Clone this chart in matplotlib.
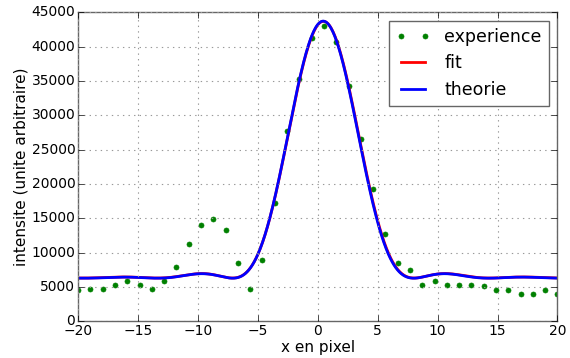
import numpy as np
import matplotlib
matplotlib.use("Agg")
import matplotlib.pyplot as plt

# data (40 pixels from -20 to 20)
x_exp = np.linspace(-20, 20, 40)
y_exp = [4650, 4750, 4750, 5240, 5900, 5240, 4700, 5900, 7950, 11200,
         14000, 14980, 13330, 8580, 4750, 8970, 17300, 27650, 35300, 41220,
         42970, 40640, 34240, 26550, 19330, 12740, 8500, 7470, 5240, 5960,
         5330, 5290, 5290, 5140, 4610, 4610, 3930, 4070, 4650, 3930]

# parameters of the model curves (Airy pattern + offset)
theo_params = dict(A=37400, B=6300, k=0.5075, x0=0.45)
fit_params = dict(A=37350, B=6320, k=0.5060, x0=0.47)


def bessel_j1(u):
    tau = np.linspace(0, np.pi, 400)
    integrand = np.cos(tau[None, :] - u[:, None] * np.sin(tau[None, :]))
    return np.trapezoid(integrand, tau, axis=1) / np.pi


def airy(x, A, B, k, x0):
    u = k * (x - x0)
    u = np.where(np.abs(u) < 1e-9, 1e-9, u)
    return B + A * (2 * bessel_j1(u) / u) ** 2


xs = np.linspace(-20, 20, 801)

plt.style.use('classic')
fig = plt.figure(figsize=(5.7, 3.58), dpi=100, facecolor='white')
ax = fig.add_axes([0.137, 0.102, 0.841, 0.864])

ax.plot(x_exp, y_exp, 'o', color='green', markeredgecolor='green', markersize=3.6, label='experience')
ax.plot(xs, airy(xs, **fit_params), color='red', linewidth=2, label='fit')
ax.plot(xs, airy(xs, **theo_params), color='blue', linewidth=2, label='theorie')

ax.set_xlim(-20, 20)
ax.set_ylim(0, 45000)
ax.set_xlabel('x en pixel', fontsize=11, labelpad=1)
ax.set_ylabel('intensite (unite arbitraire)', fontsize=11, labelpad=2)
ax.tick_params(labelsize=10, pad=2)
ax.grid(True, color='0.6', linestyle=':', linewidth=0.8)
for sp in ax.spines.values():
    sp.set_color('0.4')

leg = ax.legend(loc='upper right', numpoints=2, fontsize=12.5, fancybox=False)
leg.get_frame().set_edgecolor('0.4')

fig.savefig('out.png', dpi=100, facecolor='white')
